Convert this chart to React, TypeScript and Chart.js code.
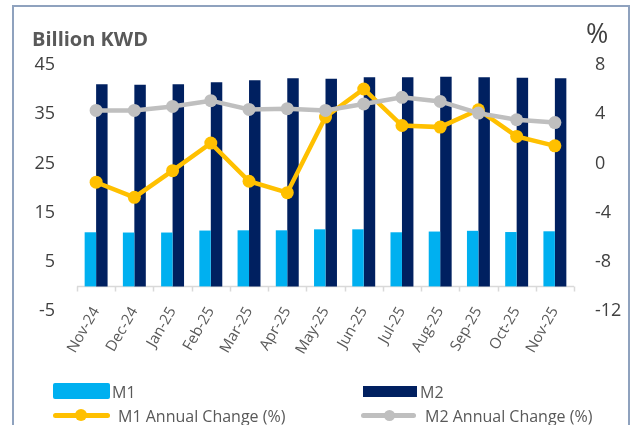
import { useEffect, useRef } from 'react';
import { Chart, registerables } from 'chart.js';

Chart.register(...registerables);

const categories = ['Nov-24', 'Dec-24', 'Jan-25', 'Feb-25', 'Mar-25', 'Apr-25', 'May-25', 'Jun-25', 'Jul-25', 'Aug-25', 'Sep-25', 'Oct-25', 'Nov-25'];
const m1Values = [11.0, 10.95, 10.95, 11.35, 11.4, 11.4, 11.6, 11.6, 11.0, 11.15, 11.3, 11.05, 11.2];
const m2Values = [41.1, 41.0, 41.1, 41.5, 41.9, 42.3, 42.2, 42.5, 42.5, 42.6, 42.5, 42.4, 42.3];
const m1Change = [-1.53, -2.76, -0.59, 1.65, -1.45, -2.38, 3.77, 6.05, 3.08, 2.95, 4.36, 2.19, 1.43];
const m2Change = [4.31, 4.31, 4.63, 5.1, 4.39, 4.45, 4.31, 4.83, 5.37, 5.04, 4.09, 3.55, 3.32];
const leftAxis = { min: -5, max: 45, step: 10 };
const rightAxis = { min: -12, max: 8, step: 4 };

const C_M1 = '#00B0F0';
const C_M2 = '#002060';
const C_M1C = '#FFC000';
const C_M2C = '#BFBFBF';
const TEXT = '#595959';

const zeroAxisPlugin = {
  id: 'zeroAxis',
  beforeDatasetsDraw(chart: any) {
    const { ctx, chartArea, scales } = chart;
    const y0 = scales.y.getPixelForValue(0);
    ctx.save();
    ctx.strokeStyle = '#D9D9D9';
    ctx.lineWidth = 1.5;
    ctx.beginPath();
    ctx.moveTo(chartArea.left, y0);
    ctx.lineTo(chartArea.right, y0);
    for (let i = 0; i <= categories.length; i++) {
      const px = Math.round(scales.x.getPixelForValue(i - 0.5)) + 0.5;
      ctx.moveTo(px, y0);
      ctx.lineTo(px, y0 + 5);
    }
    ctx.stroke();
    ctx.restore();
  },
};

export default function App() {
  const ref = useRef<HTMLCanvasElement | null>(null);
  useEffect(() => {
    if (!ref.current) return;
    Chart.defaults.font.family = "'Open Sans', sans-serif";
    const chart = new Chart(ref.current, {
      type: 'bar',
      data: {
        labels: categories,
        datasets: [
          {
            type: 'line',
            label: 'M2 Annual Change (%)',
            data: m2Change,
            yAxisID: 'y1',
            borderColor: C_M2C,
            backgroundColor: C_M2C,
            borderWidth: 4.5,
            pointRadius: 6.5,
            pointBorderWidth: 0,
            tension: 0,
            order: 0,
          } as any,
          {
            type: 'line',
            label: 'M1 Annual Change (%)',
            data: m1Change,
            yAxisID: 'y1',
            borderColor: C_M1C,
            backgroundColor: C_M1C,
            borderWidth: 4.5,
            pointRadius: 6.5,
            pointBorderWidth: 0,
            tension: 0,
            order: 1,
          } as any,
          {
            type: 'bar',
            label: 'M1',
            data: m1Values,
            yAxisID: 'y',
            backgroundColor: C_M1,
            categoryPercentage: 0.6,
            barPercentage: 1,
            order: 2,
          },
          {
            type: 'bar',
            label: 'M2',
            data: m2Values,
            yAxisID: 'y',
            backgroundColor: C_M2,
            categoryPercentage: 0.6,
            barPercentage: 1,
            order: 3,
          },
        ],
      },
      options: {
        responsive: false,
        animation: false,
        devicePixelRatio: 1,
        layout: { padding: { top: 65, left: 0, right: 0, bottom: 0 } },
        plugins: { legend: { display: false }, tooltip: { enabled: false }, title: { display: false } },
        scales: {
          x: {
            offset: true,
            grid: { display: false, drawTicks: false },
            border: { display: false },
            ticks: {
              autoSkip: false,
              maxRotation: 60,
              minRotation: 60,
              padding: -7,
              color: TEXT,
              font: { size: 15 },
            },
            afterFit: (s: any) => {
              s.height = 114;
              s._computeLabelArea = () => undefined;
            },
          },
          y: {
            position: 'left',
            min: leftAxis.min,
            max: leftAxis.max,
            grid: { display: false, drawTicks: false },
            border: { display: false },
            ticks: { stepSize: leftAxis.step, padding: 22, color: '#404040', font: { size: 18 } },
            afterFit: (s: any) => { s.width = 77; },
          },
          y1: {
            position: 'right',
            min: rightAxis.min,
            max: rightAxis.max,
            grid: { display: false, drawTicks: false },
            border: { display: false },
            ticks: { stepSize: rightAxis.step, padding: 21, color: '#404040', font: { size: 18 } },
            afterFit: (s: any) => { s.width = 59; },
          },
        },
      },
      plugins: [zeroAxisPlugin],
    });
    return () => chart.destroy();
  }, []);

  const font = "'Open Sans', sans-serif";
  const txt = (left: number, top: number, s: string) => (
    <div style={{ position: 'absolute', left, top, fontFamily: font, fontSize: 16, lineHeight: '16px', color: TEXT, whiteSpace: 'nowrap' }}>{s}</div>
  );
  const lineSym = (left: number, width: number, color: string, cx: number, d: number) => (
    <>
      <div style={{ position: 'absolute', left, top: 412.5, width, height: 5, borderRadius: 2.5, background: color }} />
      <div style={{ position: 'absolute', left: cx - d / 2, top: 415 - d / 2, width: d, height: d, borderRadius: '50%', background: color }} />
    </>
  );

  return (
    <div style={{ position: 'fixed', left: 0, top: 0, width: 633, height: 425, overflow: 'hidden', background: '#fff' }}>
      <div style={{ position: 'absolute', left: 12, top: 5, width: 618, height: 460, boxSizing: 'border-box', border: '2px solid #8FA2BE' }} />
      <canvas ref={ref} width={633} height={425} style={{ position: 'absolute', left: 0, top: 0, width: 633, height: 425 }} />
      <div style={{ position: 'absolute', left: 32, top: 28.5, fontFamily: font, fontWeight: 700, fontSize: 20, lineHeight: '20px', color: TEXT, whiteSpace: 'nowrap' }}>Billion KWD</div>
      <div style={{ position: 'absolute', left: 586, top: 19, fontFamily: font, fontSize: 27, lineHeight: '27px', color: '#404040' }}>%</div>
      <div style={{ position: 'absolute', left: 53, top: 383, width: 57, height: 16, borderRadius: 2, background: C_M1 }} />
      {txt(112, 383.5, 'M1')}
      <div style={{ position: 'absolute', left: 363, top: 386, width: 54, height: 11, background: C_M2 }} />
      {txt(420, 383.5, 'M2')}
      {lineSym(53, 57, C_M1C, 81, 12)}
      {txt(118, 407.5, 'M1 Annual Change (%)')}
      {lineSym(361, 55, C_M2C, 389, 11)}
      {txt(425, 407.5, 'M2 Annual Change (%)')}
    </div>
  );
}
